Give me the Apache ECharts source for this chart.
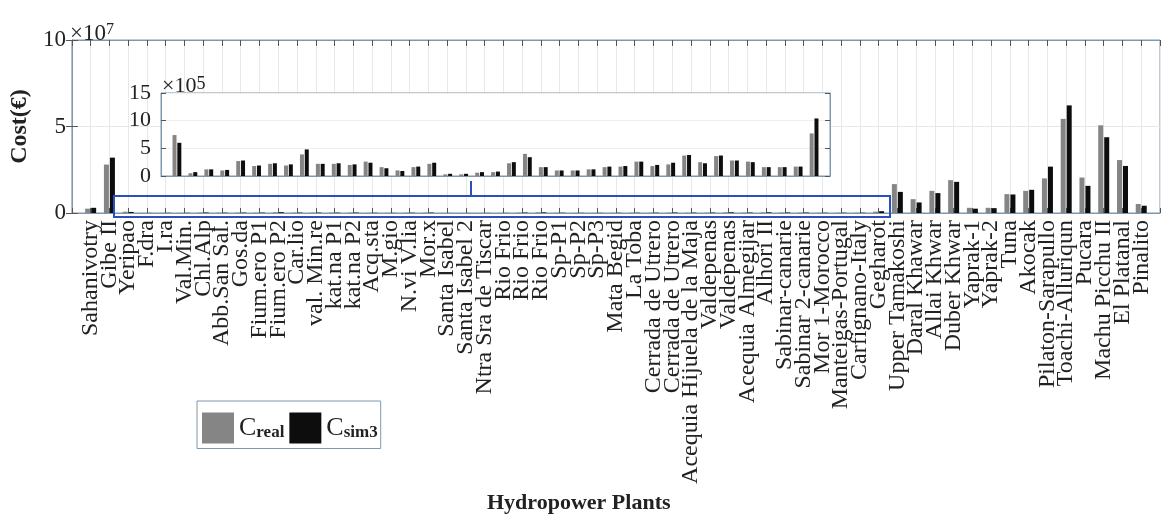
<!DOCTYPE html>
<html>
<head>
<meta charset="utf-8">
<script src="https://cdn.jsdelivr.net/npm/echarts@6/dist/echarts.min.js"></script>
<style>html,body{margin:0;padding:0;background:#fff}#c{width:1162px;height:517px}</style>
</head>
<body>
<div id="c"></div>
<script>
// ---- data (values in €) ----
const categories = [
  'Sahanivotry','Gibe II','Yeripao','F.dra','I.ra','Val.Min.','Chl.Alp','Abb.San Sal.','Gos.da',
  'Fium.ero P1','Fium.ero P2','Car.lio','val. Min.re','kat.na P1','kat.na P2','Acq.sta','M.gio',
  'N.vi V.lia','Mor.x','Santa Isabel','Santa Isabel 2','Ntra Sra de Tiscar','Rio Frio','Rio Frio',
  'Rio Frio','Sp-P1','Sp-P2','Sp-P3','Mata Begid','La Toba','Cerrada de Utrero','Cerrada de Utrero',
  'Acequia Hijuela de la Maja','Valdepenas','Valdepenas','Acequia Almegijar','Alhori II',
  'Sabinar-canarie','Sabinar 2-canarie','Mor 1-Morocco','Manteigas-Portugal','Carfignano-Italy',
  'Gegharot','Upper Tamakoshi','Daral Khawar','Allai Khwar','Duber Khwar','Yaprak-1','Yaprak-2',
  'Tuna','Akocak','Pilaton-Sarapullo','Toachi-Alluriqun','Pucara','Machu Picchu II','El Platanal','Pinalito'
];
const cReal = [
  2.5e6, 2.8e7, 7.4e5, 0.5e5, 1.2e5, 1.0e5, 2.7e5, 1.8e5, 2.2e5,
  1.9e5, 3.9e5, 2.2e5, 2.2e5, 2.0e5, 2.6e5, 1.6e5, 1.0e5,
  1.6e5, 2.2e5, 0.3e5, 0.3e5, 0.6e5, 0.7e5, 2.3e5,
  4.0e5, 1.6e5, 1.0e5, 1.0e5, 1.2e5, 1.6e5, 1.7e5, 2.6e5,
  1.8e5, 2.1e5, 3.7e5, 2.5e5, 3.6e5,
  2.8e5, 2.6e5, 1.6e5, 1.6e5, 1.7e5,
  7.7e5, 1.67e7, 0.8e7, 1.28e7, 1.9e7, 0.3e7, 0.3e7,
  1.09e7, 1.28e7, 2.0e7, 5.44e7, 2.05e7, 5.07e7, 3.06e7, 0.52e7
];
const cSim3 = [
  3.0e6, 3.2e7, 6.0e5, 0.7e5, 1.2e5, 1.1e5, 2.8e5, 1.9e5, 2.3e5,
  2.1e5, 4.8e5, 2.2e5, 2.3e5, 2.1e5, 2.4e5, 1.4e5, 0.9e5,
  1.7e5, 2.4e5, 0.4e5, 0.4e5, 0.7e5, 0.8e5, 2.5e5,
  3.4e5, 1.6e5, 1.0e5, 1.0e5, 1.2e5, 1.7e5, 1.8e5, 2.6e5,
  2.0e5, 2.4e5, 3.8e5, 2.3e5, 3.7e5,
  2.8e5, 2.5e5, 1.6e5, 1.6e5, 1.7e5,
  1.04e6, 1.22e7, 0.61e7, 1.15e7, 1.8e7, 0.25e7, 0.28e7,
  1.07e7, 1.34e7, 2.68e7, 6.22e7, 1.57e7, 4.38e7, 2.72e7, 0.42e7
];
const mainScale = 1e7, insetScale = 1e5;
const mainTicks = [0, 5, 10];
const insetTicks = [0, 5, 10, 15];
const insetFirst = 3, insetLast = 43;   // 1-based category range shown in the zoomed inset
const seriesNames = ['C_real', 'C_sim3'];

// ---- build ----
const FONT = 'Liberation Serif';
const AX = '#7f98ad';
const GRID = '#e8e8e8';
const GRAY = '#858585', BLACK = '#0d0d0d';

const mainData = (arr) => arr.map((v, i) => [i + 1, v / mainScale]);
const insetData = (arr) => arr.slice(insetFirst - 1, insetLast).map((v, i) => [i + 1, v / insetScale]);
const nMain = categories.length + 1;
const nInset = insetLast - insetFirst + 2;

const tickLabel = { fontFamily: FONT, fontSize: 23, color: '#222' };

const option = {
  animation: false,
  backgroundColor: '#fff',
  title: {
    text: 'Hydropower Plants', left: 482, top: 487,
    textStyle: { fontFamily: FONT, fontWeight: 'bold', fontSize: 22, color: '#222' }
  },
  legend: {
    left: 197, top: 401, orient: 'horizontal',
    data: seriesNames,
    backgroundColor: '#fff', borderColor: AX, borderWidth: 1,
    padding: [5, 3, 5, 5], itemGap: 5, itemWidth: 32, itemHeight: 31,
    icon: 'rect',
    formatter: (n) => n === 'C_real' ? '{c|C}{s|real}' : '{c|C}{s|sim3}',
    textStyle: {
      rich: {
        c: { fontFamily: FONT, fontSize: 26, color: '#222', verticalAlign: 'top', lineHeight: 26 },
        s: { fontFamily: FONT, fontSize: 17, fontWeight: 'bold', color: '#222', verticalAlign: 'bottom', lineHeight: 17, padding: [18, 0, 0, 0] }
      }
    }
  },
  grid: [
    { left: 68, top: 40, width: 1092, height: 173, show: true, borderColor: AX, borderWidth: 1, backgroundColor: '#fff', z: 0 },
    { left: 161, top: 93, width: 669, height: 83, show: true, borderColor: AX, borderWidth: 1, backgroundColor: '#fff', z: 3 }
  ],
  xAxis: [
    {
      gridIndex: 0, type: 'value', min: 0, max: nMain, interval: 1, position: 'bottom',
      axisLine: { show: true, onZero: false, lineStyle: { color: AX } },
      axisTick: { show: true, inside: true, length: 5, lineStyle: { color: '#555' } },
      axisLabel: {
        rotate: 90, margin: 7, fontFamily: FONT, fontSize: 24, color: '#222',
        formatter: (v) => categories[v - 1] || ''
      },
      splitLine: { show: true, lineStyle: { color: GRID } }
    },
    {
      gridIndex: 0, type: 'value', min: 0, max: nMain, interval: 1, position: 'top',
      axisLine: { show: true, onZero: false, lineStyle: { color: AX } },
      axisTick: { show: true, inside: true, length: 6, lineStyle: { color: '#555' } },
      axisLabel: { show: false }, splitLine: { show: false }
    },
    {
      gridIndex: 1, type: 'value', min: 0, max: nInset, interval: 1, position: 'bottom', z: 4,
      axisLine: { show: true, onZero: false, lineStyle: { color: AX } },
      axisTick: { show: false }, axisLabel: { show: false }, splitLine: { show: false }
    }
  ],
  yAxis: [
    {
      gridIndex: 0, type: 'value', min: mainTicks[0], max: mainTicks[mainTicks.length - 1], interval: 5, position: 'left',
      name: 'Cost(€)', nameLocation: 'middle', nameGap: 36,
      nameTextStyle: { fontFamily: FONT, fontWeight: 'bold', fontSize: 24, color: '#222' },
      axisLine: { show: true, lineStyle: { color: AX } },
      axisTick: { show: true, inside: true, length: 6, lineStyle: { color: '#555' } },
      axisLabel: Object.assign({ margin: 6 }, tickLabel),
      splitLine: { show: true, lineStyle: { color: GRID } }
    },
    {
      gridIndex: 0, type: 'value', min: mainTicks[0], max: mainTicks[mainTicks.length - 1], interval: 5, position: 'right',
      axisLine: { show: true, lineStyle: { color: AX } },
      axisTick: { show: true, inside: true, length: 6, lineStyle: { color: '#555' } },
      axisLabel: { show: false }, splitLine: { show: false }
    },
    {
      gridIndex: 1, type: 'value', min: insetTicks[0], max: insetTicks[insetTicks.length - 1], interval: 5, position: 'left', z: 4,
      axisLine: { show: true, lineStyle: { color: AX } },
      axisTick: { show: true, inside: true, length: 5, lineStyle: { color: '#555' } },
      axisLabel: Object.assign({ margin: 10 }, tickLabel, { fontSize: 22 }),
      splitLine: { show: true, lineStyle: { color: '#efefef' } }
    },
    {
      gridIndex: 1, type: 'value', min: insetTicks[0], max: insetTicks[insetTicks.length - 1], interval: 5, position: 'right', z: 4,
      axisLine: { show: true, lineStyle: { color: AX } },
      axisTick: { show: true, inside: true, length: 5, lineStyle: { color: '#555' } },
      axisLabel: { show: false }, splitLine: { show: false }
    }
  ],
  series: [
    { name: seriesNames[0], type: 'bar', xAxisIndex: 0, yAxisIndex: 0, data: mainData(cReal), barWidth: 5, barGap: '20%', itemStyle: { color: GRAY } },
    { name: seriesNames[1], type: 'bar', xAxisIndex: 0, yAxisIndex: 0, data: mainData(cSim3), barWidth: 5, barGap: '20%', itemStyle: { color: BLACK } },
    { name: seriesNames[0], type: 'bar', xAxisIndex: 2, yAxisIndex: 2, data: insetData(cReal), barWidth: 4, barGap: '20%', z: 5, itemStyle: { color: GRAY } },
    { name: seriesNames[1], type: 'bar', xAxisIndex: 2, yAxisIndex: 2, data: insetData(cSim3), barWidth: 4, barGap: '20%', z: 5, itemStyle: { color: BLACK } }
  ],
  graphic: [
    { type: 'text', left: 70, top: 14, z: 10,
      style: { text: '{a|×10}{b|7}', rich: {
        a: { fontFamily: FONT, fontSize: 23, fill: '#222', verticalAlign: 'bottom', lineHeight: 23, padding: [8, 0, 0, 0] },
        b: { fontFamily: FONT, fontSize: 16, fill: '#222', verticalAlign: 'top', lineHeight: 16 } } } },
    { type: 'text', left: 162, top: 67, z: 10,
      style: { text: '{a|×10}{b|5}', rich: {
        a: { fontFamily: FONT, fontSize: 22, fill: '#222', verticalAlign: 'bottom', lineHeight: 22, padding: [8, 0, 0, 0] },
        b: { fontFamily: FONT, fontSize: 18, fill: '#222', verticalAlign: 'top', lineHeight: 18 } } } },
    { type: 'rect', z: 10, shape: { x: 114, y: 196, width: 776, height: 21 },
      style: { fill: 'none', stroke: '#2b4fc0', lineWidth: 2 } },
    { type: 'line', z: 10, shape: { x1: 471, y1: 181, x2: 471, y2: 196 },
      style: { stroke: '#2b4fc0', lineWidth: 2 } }
  ]
};

const chart = echarts.init(document.getElementById('c'), null, { renderer: 'canvas' });
chart.setOption(option);
</script>
</body>
</html>
